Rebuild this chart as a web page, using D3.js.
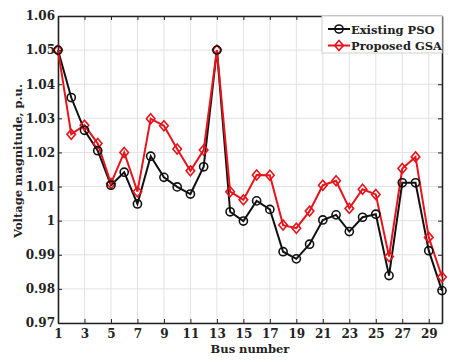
<!DOCTYPE html>
<html lang="en">
<head>
<meta charset="UTF-8">
<title>Voltage magnitude per bus</title>
<style>
  body { margin: 0; background: #fff; }
  .tick text { font-family: "DejaVu Serif", serif; font-weight: bold; font-size: 12px; fill: #222; }
  .lbl { font-family: "DejaVu Serif", serif; font-weight: bold; font-size: 11.5px; fill: #222; }
  .leg { font-family: "DejaVu Serif", serif; font-weight: bold; font-size: 11.5px; fill: #222; }
</style>
</head>
<body>
<div id="chart"></div>
<script src="https://d3js.org/d3.v7.min.js"></script>
<script>
    var buses = d3.range(1, 31);
    var psoValues = [1.050, 1.0361, 1.0265, 1.0205, 1.0104, 1.0142, 1.0049, 1.0189, 1.0127, 1.0099,
                     1.0078, 1.0158, 1.050, 1.0026, 0.9999, 1.0058, 1.0033, 0.9909, 0.9888, 0.9931,
                     1.0002, 1.0017, 0.9968, 1.0010, 1.0019, 0.9839, 1.0111, 1.0111, 0.9912, 0.9795];
    var gsaValues = [1.050, 1.0253, 1.0280, 1.0226, 1.0109, 1.0200, 1.0085, 1.0299, 1.0278, 1.0210,
                     1.0146, 1.0207, 1.050, 1.0085, 1.0061, 1.0134, 1.0133, 0.9987, 0.9978, 1.0028,
                     1.0104, 1.0117, 1.0036, 1.0092, 1.0077, 0.9895, 1.0153, 1.0187, 0.9951, 0.9835];
    var xTicks = d3.range(1, 30, 2);
    var yTicks = [0.97, 0.98, 0.99, 1, 1.01, 1.02, 1.03, 1.04, 1.05, 1.06];
    var seriesNames = ["Existing PSO", "Proposed GSA"];

    var width = 476, height = 362;
    var margin = {top: 16, right: 34, bottom: 39, left: 58};

    var svg = d3.select("#chart").append("svg")
        .attr("width", width)
        .attr("height", height);

    var x = d3.scaleLinear().domain([1, 30]).range([margin.left, width - margin.right]);
    var y = d3.scaleLinear().domain([0.97, 1.06]).range([height - margin.bottom, margin.top]);

    // grid
    svg.append("g").selectAll("line")
        .data(xTicks).enter().append("line")
        .attr("x1", function(d) { return x(d); }).attr("x2", function(d) { return x(d); })
        .attr("y1", y(0.97)).attr("y2", y(1.06))
        .attr("stroke", "#e2e2e2").attr("stroke-width", 1);
    svg.append("g").selectAll("line")
        .data(yTicks).enter().append("line")
        .attr("y1", function(d) { return y(d); }).attr("y2", function(d) { return y(d); })
        .attr("x1", x(1)).attr("x2", x(30))
        .attr("stroke", "#e2e2e2").attr("stroke-width", 1);

    // axes (ticks point inward, box on all four sides)
    var fmt = function(d) { return d3.format(".2f")(d).replace(/\.?0+$/, ""); };
    var darkDomain = function(g) { g.select(".domain").attr("stroke", "#222").attr("stroke-width", 1.6); };
    svg.append("g")
        .attr("transform", "translate(0," + y(0.97) + ")")
        .call(d3.axisBottom(x).tickValues(xTicks).tickSizeInner(-4).tickSizeOuter(0).tickPadding(6))
        .call(darkDomain);
    svg.append("g")
        .attr("transform", "translate(" + x(1) + ",0)")
        .call(d3.axisLeft(y).tickValues(yTicks).tickFormat(fmt).tickSizeInner(-4).tickSizeOuter(0).tickPadding(3))
        .call(darkDomain);
    svg.append("g")
        .attr("transform", "translate(0," + y(1.06) + ")")
        .call(d3.axisTop(x).tickValues(xTicks).tickFormat("").tickSizeInner(-4).tickSizeOuter(0))
        .call(darkDomain);
    svg.append("g")
        .attr("transform", "translate(" + x(30) + ",0)")
        .call(d3.axisRight(y).tickValues(yTicks).tickFormat("").tickSizeInner(-4).tickSizeOuter(0))
        .call(darkDomain);
    svg.selectAll(".tick line").attr("stroke", "#222");

    // lines
    var line = d3.line()
        .x(function(d, i) { return x(buses[i]); })
        .y(function(d) { return y(d); });

    svg.append("path").datum(psoValues)
        .attr("fill", "none").attr("stroke", "#111").attr("stroke-width", 2)
        .attr("d", line);
    svg.append("path").datum(gsaValues)
        .attr("fill", "none").attr("stroke", "#e8141b").attr("stroke-width", 2)
        .attr("d", line);

    var circle = d3.symbol().type(d3.symbolCircle).size(52);
    // squat diamond like the matlab marker
    var diamondType = {
        draw: function(ctx) {
            ctx.moveTo(0, -5); ctx.lineTo(4.3, 0); ctx.lineTo(0, 5); ctx.lineTo(-4.3, 0); ctx.closePath();
        }
    };
    var diamond = d3.symbol().type(diamondType);

    svg.append("g").selectAll("path")
        .data(gsaValues).enter().append("path")
        .attr("transform", function(d, i) { return "translate(" + x(buses[i]) + "," + y(d) + ")"; })
        .attr("d", diamond)
        .attr("fill", "none").attr("stroke", "#e8141b").attr("stroke-width", 1.6);
    svg.append("g").selectAll("path")
        .data(psoValues).enter().append("path")
        .attr("transform", function(d, i) { return "translate(" + x(buses[i]) + "," + y(d) + ")"; })
        .attr("d", circle)
        .attr("fill", "none").attr("stroke", "#111").attr("stroke-width", 1.6);

    // axis labels
    svg.append("text").attr("class", "lbl")
        .attr("x", (x(1) + x(30)) / 2).attr("y", 353)
        .attr("text-anchor", "middle")
        .text("Bus number");
    svg.append("text").attr("class", "lbl")
        .attr("transform", "translate(22,161) rotate(-90)")
        .attr("text-anchor", "middle")
        .text("Voltage magnitude, p.u.");

    // legend
    var lg = svg.append("g").attr("transform", "translate(" + 322 + "," + y(1.06) + ")");
    lg.append("rect")
        .attr("width", x(30) - 322).attr("height", 37)
        .attr("fill", "#fff").attr("stroke", "#d0d0d0");
    var colors = ["#111", "#e8141b"];
    var syms = [circle, diamond];
    seriesNames.forEach(function(name, i) {
        var row = lg.append("g").attr("transform", "translate(0," + (13 + i * 16.5) + ")");
        row.append("line").attr("x1", 6).attr("x2", 28)
            .attr("stroke", colors[i]).attr("stroke-width", 2);
        row.append("path").attr("transform", "translate(17,0)")
            .attr("d", syms[i]).attr("fill", "none")
            .attr("stroke", colors[i]).attr("stroke-width", 1.6);
        row.append("text").attr("class", "leg")
            .attr("x", 29).attr("y", 4.5)
            .text(name);
    });
</script>
</body>
</html>
